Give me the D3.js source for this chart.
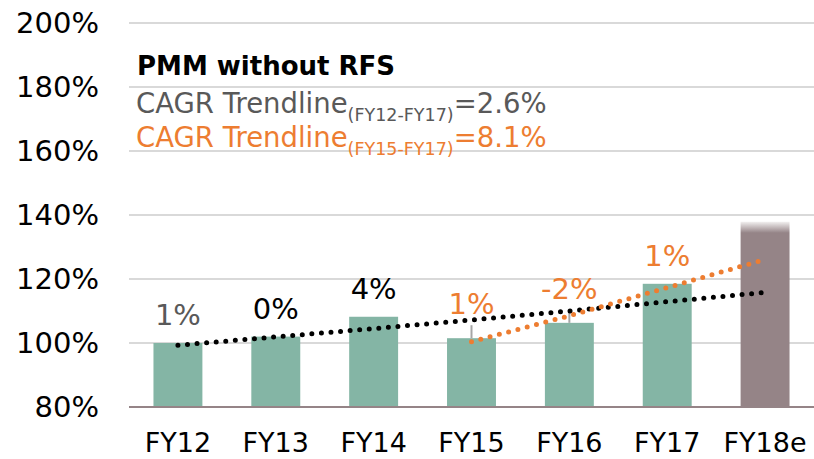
<!DOCTYPE html>
<html lang="en">
<head>
<meta charset="utf-8">
<title>PMM without RFS</title>
<script src="https://cdn.jsdelivr.net/npm/d3@7"></script>
<style>
  body { margin: 0; background: #fff; }
  svg text { font-family: "DejaVu Sans", Verdana, sans-serif; }
</style>
</head>
<body>
<script>
// data
var categories = ["FY12", "FY13", "FY14", "FY15", "FY16", "FY17", "FY18e"];
var values = [100, 102, 108.2, 101.5, 106.3, 118.5, 137.9];
var changeLabels = ["1%", "0%", "4%", "1%", "-2%", "1%", null];
var labelGroup = ["grey", "black", "black", "orange", "orange", "orange", null];
var leaderCats = ["FY15", "FY16"];
// trendlines
var trendAll = [99.3, 101.9, 104.5, 107.2, 110.0, 112.9, 115.8];
var trendRecentCats = ["FY15", "FY16", "FY17", "FY18e"];
var trendRecent = [100.4, 108.5, 117.3, 126.1];
var yTicks = [80, 100, 120, 140, 160, 180, 200];

var w = 814, h = 459;
var orange = "#ed7d31", grey = "#595959";

var svg = d3.select("body").append("svg")
  .attr("width", w).attr("height", h);

var x = d3.scaleBand()
  .domain(categories)
  .range([129, 814])
  .paddingInner(0.5)
  .paddingOuter(0.25);

var y = d3.scaleLinear().domain([80, 200]).range([407, 23]);

// gradient for estimate bar
var defs = svg.append("defs");
var grad = defs.append("linearGradient")
  .attr("id", "estGrad").attr("x1", 0).attr("y1", 0).attr("x2", 0).attr("y2", 1);
grad.append("stop").attr("offset", "0%").attr("stop-color", "#f2f0f0");
grad.append("stop").attr("offset", "6%").attr("stop-color", "#958487");
grad.append("stop").attr("offset", "100%").attr("stop-color", "#958487");

// gridlines
svg.append("g")
  .selectAll("line")
  .data(yTicks.slice(1))
  .enter().append("line")
  .attr("x1", 129).attr("x2", w)
  .attr("y1", function(d) { return y(d); })
  .attr("y2", function(d) { return y(d); })
  .attr("stroke", "#d9d9d9")
  .attr("stroke-width", 2);

// y tick labels
svg.append("g")
  .selectAll("text")
  .data(yTicks)
  .enter().append("text")
  .attr("x", 99)
  .attr("y", function(d) { return y(d) + 10; })
  .attr("text-anchor", "end")
  .attr("font-size", "29px")
  .attr("fill", "#000")
  .text(function(d) { return d + "%"; });

// bars
svg.append("g")
  .selectAll("rect")
  .data(values)
  .enter().append("rect")
  .attr("x", function(d, i) { return x(categories[i]); })
  .attr("width", x.bandwidth())
  .attr("y", function(d) { return y(d); })
  .attr("height", function(d) { return y(80) - y(d); })
  .attr("fill", function(d, i) {
    return categories[i] === "FY18e" ? "url(#estGrad)" : "#84b5a5";
  });

// baseline
svg.append("line")
  .attr("x1", 129).attr("x2", w)
  .attr("y1", y(80)).attr("y2", y(80))
  .attr("stroke", "#958487").attr("stroke-width", 2);

// category labels
svg.append("g")
  .selectAll("text")
  .data(categories)
  .enter().append("text")
  .attr("x", function(d) { return x(d) + x.bandwidth() / 2; })
  .attr("y", 452)
  .attr("text-anchor", "middle")
  .attr("font-size", "27px")
  .attr("fill", "#000")
  .text(function(d) { return d; });

// leader lines
svg.append("g")
  .selectAll("line")
  .data(leaderCats)
  .enter().append("line")
  .attr("x1", function(d) { return x(d) + x.bandwidth() / 2; })
  .attr("x2", function(d) { return x(d) + x.bandwidth() / 2; })
  .attr("y1", function(d) { return y(values[categories.indexOf(d)]) - 13; })
  .attr("y2", function(d) { return y(values[categories.indexOf(d)]); })
  .attr("stroke", "#a6a6a6").attr("stroke-width", 2);

// trendlines
var cx = function(c) { return x(c) + x.bandwidth() / 2; };
var line = d3.line()
  .x(function(d) { return cx(d[0]); })
  .y(function(d) { return y(d[1]); });

svg.append("path")
  .datum(categories.map(function(c, i) { return [c, trendAll[i]]; }))
  .attr("d", line)
  .attr("fill", "none")
  .attr("stroke", "#000")
  .attr("stroke-width", 5)
  .attr("stroke-linecap", "round")
  .attr("stroke-dasharray", "0 9.6");

svg.append("path")
  .datum(trendRecentCats.map(function(c, i) { return [c, trendRecent[i]]; }))
  .attr("d", line)
  .attr("fill", "none")
  .attr("stroke", orange)
  .attr("stroke-width", 5)
  .attr("stroke-linecap", "round")
  .attr("stroke-dasharray", "0 9.6");

// data labels
var labelColor = { grey: grey, black: "#000", orange: orange };
svg.append("g")
  .selectAll("text")
  .data(values)
  .enter().append("text")
  .filter(function(d, i) { return changeLabels[i] !== null; })
  .attr("x", function(d, i) { return cx(categories[i]); })
  .attr("y", function(d, i) {
    var lift = leaderCats.indexOf(categories[i]) >= 0 ? 24 : 18;
    return y(d) - lift;
  })
  .attr("text-anchor", "middle")
  .attr("font-size", "29px")
  .attr("fill", function(d, i) { return labelColor[labelGroup[i]]; })
  .text(function(d, i) { return changeLabels[i]; });

// annotation block
svg.append("text")
  .attr("x", 137).attr("y", 75)
  .attr("font-size", "26px")
  .attr("font-weight", "bold")
  .attr("fill", "#000")
  .text("PMM without RFS");

function cagrLine(yPos, range, val, color) {
  var t = svg.append("text")
    .attr("x", 136).attr("y", yPos)
    .attr("font-size", "27.5px")
    .attr("fill", color);
  t.append("tspan").text("CAGR Trendline");
  t.append("tspan").attr("font-size", "17.5px").attr("dy", 7.5).text(range);
  t.append("tspan").attr("dy", -7.5).text("=" + val);
}
cagrLine(113, "(FY12-FY17)", "2.6%", grey);
cagrLine(147, "(FY15-FY17)", "8.1%", orange);
</script>
</body>
</html>
